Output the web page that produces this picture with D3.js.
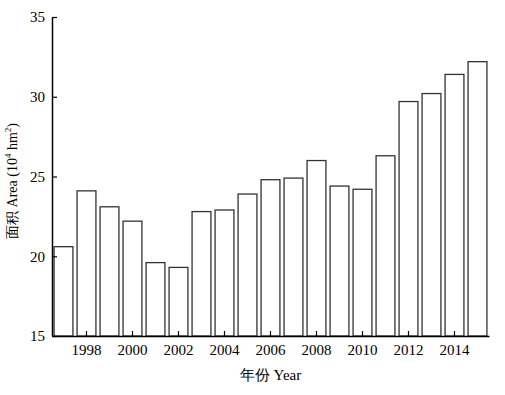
<html lang="zh">
<head>
<style>
body { margin: 0; background: #fff; }
text { font-family: "Liberation Serif", "Times New Roman", serif; }
</style>
</head>
<body>
</body>
<script type='text/javascript' src='https://d3js.org/d3.v7.min.js'></script>
<script>
var width = 505, height = 395;

// data
const years = [1997,1998,1999,2000,2001,2002,2003,2004,2005,2006,2007,2008,2009,2010,2011,2012,2013,2014,2015];
const area = [20.6,24.1,23.1,22.2,19.6,19.3,22.8,22.9,23.9,24.8,24.9,26.0,24.4,24.2,26.3,29.7,30.2,31.4,32.2];
const yTicks = [15,20,25,30,35];
const xTickYears = [1998,2000,2002,2004,2006,2008,2010,2012,2014];

var margin = {left: 52, right: 16, top: 17, bottom: 58};

var svg = d3.select('body').append('svg').attr('width', width).attr('height', height);

var x = d3.scaleBand()
  .domain(years)
  .range([margin.left, width - margin.right])
  .paddingInner(0.18)
  .paddingOuter(0.09);

var y = d3.scaleLinear()
  .domain([15, 35])
  .range([height - margin.bottom - 1, margin.top]);

// bars
svg.append('g')
  .selectAll('rect')
  .data(years)
  .join('rect')
  .attr('x', function(d) { return x(d); })
  .attr('width', x.bandwidth())
  .attr('y', function(d, i) { return y(area[i]); })
  .attr('height', function(d, i) { return y(15) - y(area[i]); })
  .attr('fill', '#fff')
  .attr('stroke', '#333')
  .attr('stroke-width', 1.3);

// y axis, ticks inside
var yAxis = svg.append('g')
  .attr('transform', 'translate(' + margin.left + ',0)')
  .call(d3.axisRight(y).tickValues(yTicks).tickSize(5).tickSizeOuter(0).tickFormat(d3.format('d')));
yAxis.select('.domain').attr('stroke', '#000').attr('stroke-width', 1.5);
yAxis.selectAll('.tick line').attr('stroke', '#000').attr('stroke-width', 1.2);
yAxis.selectAll('.tick text')
  .attr('x', -7)
  .attr('text-anchor', 'end')
  .attr('font-size', 15)
  .attr('fill', '#000')
  .attr('font-family', '"Liberation Serif", serif');

// x axis, ticks inside
var xAxis = svg.append('g')
  .attr('transform', 'translate(0,' + y(15) + ')')
  .call(d3.axisTop(x).tickValues(xTickYears).tickSize(5).tickSizeOuter(0));
xAxis.select('.domain').attr('stroke', '#000').attr('stroke-width', 1.5);
xAxis.selectAll('.tick line').attr('stroke', '#000').attr('stroke-width', 1.2);
xAxis.selectAll('.tick text')
  .attr('y', 19)
  .attr('dy', 0)
  .attr('font-size', 15)
  .attr('fill', '#000')
  .attr('font-family', '"Liberation Serif", serif');

// axis titles
svg.append('text')
  .attr('x', (margin.left + width - margin.right) / 2)
  .attr('y', 380)
  .attr('text-anchor', 'middle')
  .attr('font-size', 15)
  .text('年份 Year');

var yl = svg.append('text')
  .attr('transform', 'translate(17,181) rotate(-90)')
  .attr('text-anchor', 'middle')
  .attr('font-size', 14);
yl.append('tspan').text('面积 Area (10');
yl.append('tspan').attr('font-size', 9).attr('dy', -6).text('4');
yl.append('tspan').attr('dy', 6).text(' hm');
yl.append('tspan').attr('font-size', 9).attr('dy', -6).text('2');
yl.append('tspan').attr('dy', 6).text(')');
</script>
</html>
